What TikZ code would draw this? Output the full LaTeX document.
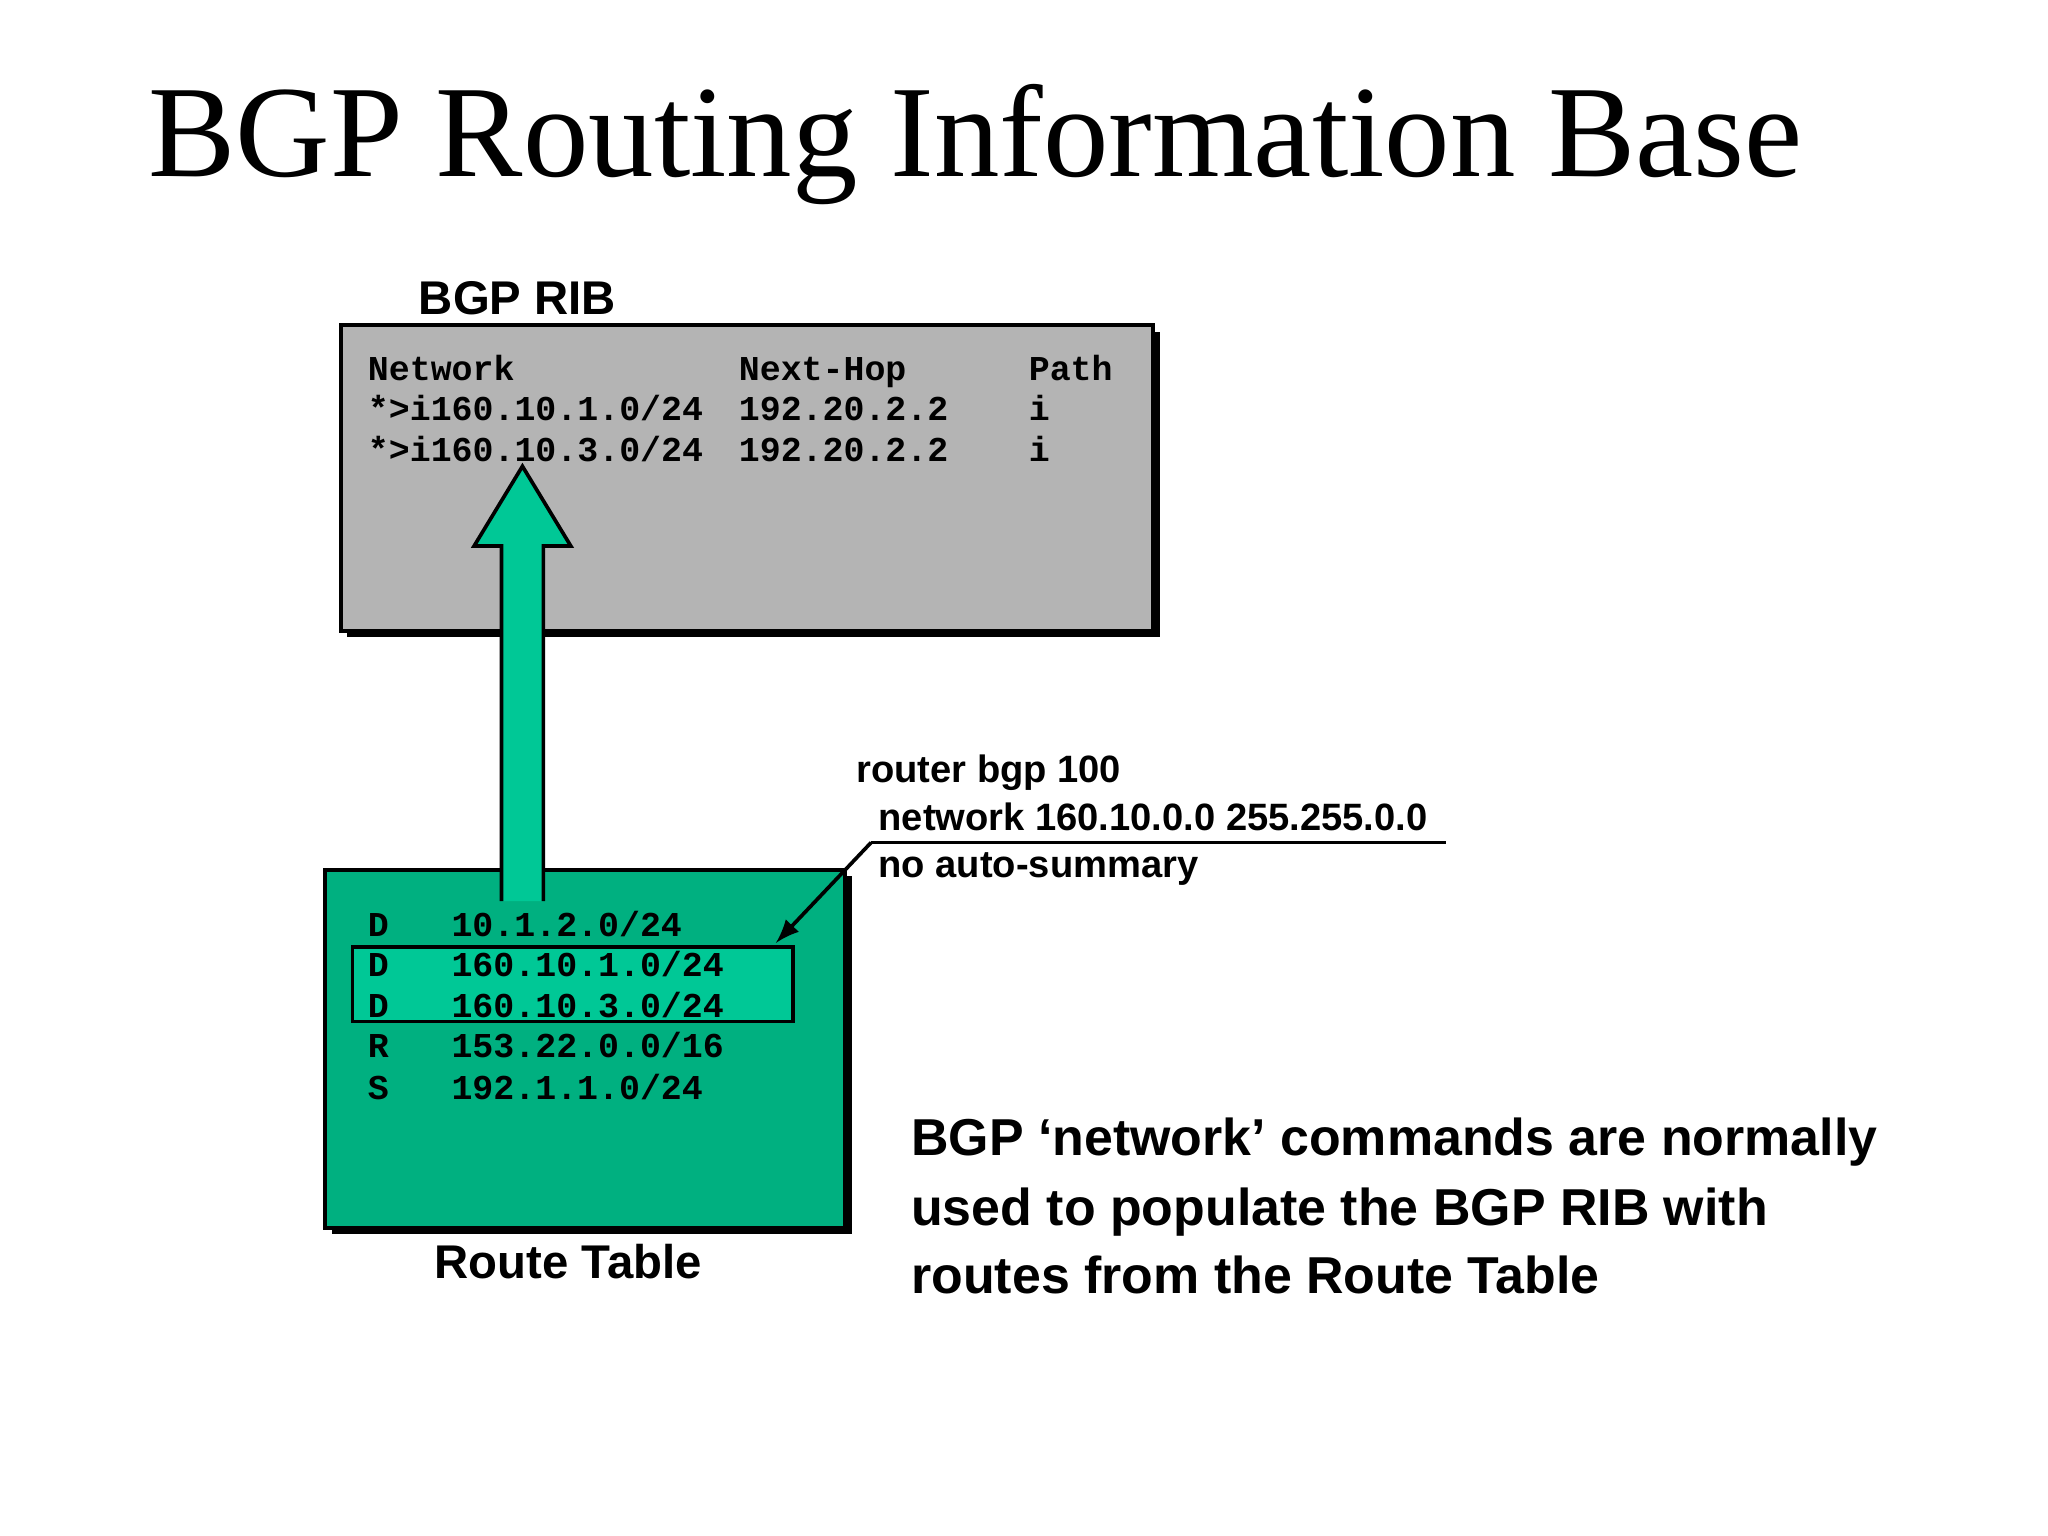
\documentclass[tikz,border=0pt]{standalone}
\usepackage{fontspec}
\setmainfont{Liberation Serif}
\setsansfont{Liberation Sans}
\setmonofont{Liberation Mono}
\begin{document}
\begin{tikzpicture}[x=0.01cm,y=-0.01cm,
  mono/.style={font=\fontsize{7.6pt}{9pt}\ttfamily\bfseries,anchor=base west,inner sep=0},
  sb/.style={font=\fontsize{8.3pt}{10pt}\sffamily\bfseries,anchor=base west,inner sep=0},
  big/.style={font=\fontsize{11.3pt}{14pt}\sffamily\bfseries,anchor=base west,inner sep=0}]
\useasboundingbox (0,0) rectangle (1568,1176);
\fill[white] (0,0) rectangle (1568,1176);
\node[font=\fontsize{28.5pt}{32pt}\selectfont,anchor=base west,inner sep=0] (title) at (113,135) {BGP Routing Information Base};
% RIB box
\fill[black] (266,254) rectangle (888,488);
\draw[fill={rgb,255:red,180;green,180;blue,180},line width=0.8pt] (261,249) rectangle (883,483);
\node[font=\fontsize{10.3pt}{12pt}\sffamily\bfseries,anchor=base west,inner sep=0] (ribl) at (320,241) {BGP RIB};
\node[mono] (h1) at (281,291) {Network};
\node[mono] (h2) at (565,291) {Next-Hop};
\node[mono] (h3) at (787,291) {Path};
\node[mono] (a1) at (281,322) {*>i160.10.1.0/24};
\node[mono] (a2) at (565,322) {192.20.2.2};
\node[mono] (a3) at (787,322) {i};
\node[mono] (b1) at (281,353) {*>i160.10.3.0/24};
\node[mono] (b2) at (565,353) {192.20.2.2};
\node[mono] (b3) at (787,353) {i};
% route table box
\fill[black] (254,671) rectangle (652,945);
\draw[fill={rgb,255:red,0;green,176;blue,128},line width=0.8pt] (249,666) rectangle (647,940);
\draw[fill={rgb,255:red,0;green,200;blue,150},line width=0.8pt] (270,725) rectangle (607,782);
% arrow
\draw[fill={rgb,255:red,0;green,200;blue,150},line width=0.8pt] (384,690) -- (384,418) -- (363,418) -- (400,357) coordinate (tip) -- (437,418) -- (416,418) -- (416,690);
\node[mono] (r1a) at (281,717) {D};  \node[mono] (r1b) at (345,717) {10.1.2.0/24};
\node[mono] (r2a) at (281,748) {D};  \node[mono] (r2b) at (345,748) {160.10.1.0/24};
\node[mono] (r3a) at (281,779) {D};  \node[mono] (r3b) at (345,779) {160.10.3.0/24};
\node[mono] (r4a) at (281,810) {R};  \node[mono] (r4b) at (345,810) {153.22.0.0/16};
\node[mono] (r5a) at (281,842) {S};  \node[mono] (r5b) at (345,842) {192.1.1.0/24};
\node[font=\fontsize{10.3pt}{12pt}\sffamily\bfseries,anchor=base west,inner sep=0] (rtl) at (332,979) {Route Table};
% callout
\node[sb] (c1) at (655,599) {router bgp 100};
\node[sb] (c2) at (672,636) {network 160.10.0.0 255.255.0.0};
\node[sb] (c3) at (672,672) {no auto-summary};
\coordinate (ul) at (667,645);
\coordinate (ur) at (1107,645);
\coordinate (hl) at (594,722);
\draw[line width=0.8pt] (ul) -- (ur);
\draw[line width=0.8pt,-latex] (ul) -- (hl);
\node[big] (t1) at (697,885) {BGP ‘network’ commands are normally};
\node[big] (t2) at (697,938) {used to populate the BGP RIB with};
\node[big] (t3) at (697,990) {routes from the Route Table};
\end{tikzpicture}
\end{document}
